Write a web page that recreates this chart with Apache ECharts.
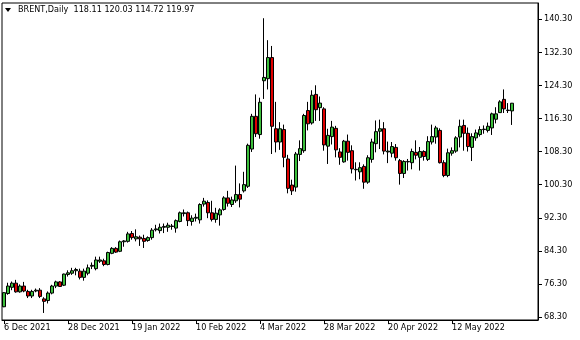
<!DOCTYPE html>
<html>
<head>
<meta charset="utf-8">
<script src="https://cdn.jsdelivr.net/npm/echarts@6/dist/echarts.min.js"></script>
<style>html,body{margin:0;padding:0;background:#fff}#c{width:580px;height:340px}</style>
</head>
<body>
<div id="c"></div>
<script>
// trading days (category axis)
const monthDays = [
  ['Dec', 2021, [6,7,8,9,10,13,14,15,16,17,20,21,22,23,24,27,28,29,30,31]],
  ['Jan', 2022, [3,4,5,6,7,10,11,12,13,14,17,18,19,20,21,24,25,26,27,28,31]],
  ['Feb', 2022, [1,2,3,4,7,8,9,10,11,14,15,16,17,18,21,22,23,24,25,28]],
  ['Mar', 2022, [1,2,3,4,7,8,9,10,11,14,15,16,17,18,21,22,23,24,25,28,29,30,31]],
  ['Apr', 2022, [1,4,5,6,7,8,11,12,13,14,18,19,20,21,22,25,26,27,28,29]],
  ['May', 2022, [2,3,4,5,6,9,10,11,12,13,16,17,18,19,20,23,24,25,26,27,30,31]],
  ['Jun', 2022, [1,2]]
];
const emptySlots = 6; // blank space to the right of the last bar
const tickLabels = ['6 Dec 2021','28 Dec 2021','19 Jan 2022','10 Feb 2022','4 Mar 2022','28 Mar 2022','20 Apr 2022','12 May 2022'];
const priceTicks = [68.3, 76.3, 84.3, 92.3, 100.3, 108.3, 116.3, 124.3, 132.3, 140.3];

const opens = [70.8,74.0,75.5,76.5,74.4,75.8,74.5,73.4,74.6,74.8,72.7,72.3,74.1,75.8,76.8,76.0,78.6,78.9,79.5,79.4,
77.9,78.9,80.6,80.0,81.8,81.9,81.0,83.7,84.9,84.2,86.5,86.6,88.5,87.2,87.6,87.3,86.8,87.5,89.4,89.2,
90.0,90.0,90.2,89.8,91.4,93.3,93.5,91.4,92.2,91.8,95.6,96.0,93.5,91.9,93.0,94.3,97.1,95.5,96.4,97.9,
98.8,99.9,108.9,116.8,112.4,125.4,125.9,131.0,113.8,110.6,113.6,106.5,100.2,99.7,107.6,108.5,118.2,115.2,122.1,118.9,
118.6,109.6,111.9,113.9,108.2,105.8,110.8,108.5,103.9,103.4,104.7,100.9,106.4,110.2,113.2,113.8,108.2,107.9,109.3,106.1,
103.0,105.8,105.6,108.1,106.9,108.3,106.4,110.6,111.8,113.4,105.6,102.5,107.9,108.4,111.8,114.6,112.7,109.3,111.6,112.4,
113.6,113.4,114.0,116.1,117.7,120.9,118.3,118.11];
const highs = [74.3,76.6,76.9,77.3,76.2,76.8,74.9,74.9,75.2,75.3,73.1,74.5,76.1,77.1,77.0,78.8,79.6,80.2,80.2,80.0,
80.0,81.0,81.5,82.9,82.9,82.4,84.1,85.2,85.2,86.8,86.9,88.9,89.1,89.5,88.0,88.2,87.8,89.8,90.6,90.9,
90.9,91.1,90.8,91.9,93.8,94.3,93.8,92.9,93.3,95.8,97.1,96.5,96.4,94.7,94.6,97.5,98.8,97.4,104.9,100.6,
103.4,110.2,117.4,122.1,121.3,140.5,135.2,133.8,120.3,115.4,114.8,107.5,101.5,108.2,111.0,117.4,120.3,123.1,124.3,121.6,
119.0,113.8,115.7,114.5,109.1,111.1,112.4,109.8,105.7,105.7,105.2,107.4,111.4,115.8,116.0,115.4,110.7,110.6,110.1,106.5,
106.2,106.5,109.0,111.0,109.4,108.6,112.0,114.8,114.5,113.9,106.2,109.0,109.3,112.0,116.0,116.0,114.1,112.7,113.6,114.4,
114.6,115.3,117.7,119.0,120.7,123.3,120.0,120.03];
const lows = [70.7,73.7,74.8,74.2,74.2,74.3,72.9,72.9,74.3,72.9,69.3,71.6,73.8,75.3,75.6,75.8,78.1,78.5,78.4,77.4,
77.1,78.4,79.9,79.6,81.4,80.6,80.8,83.5,83.8,84.0,85.3,86.3,87.0,86.6,85.5,85.0,86.5,87.0,89.0,88.5,
88.6,88.9,89.4,88.7,91.2,92.6,90.3,90.4,91.4,90.9,95.0,92.2,91.4,91.1,90.4,94.0,95.0,94.9,95.9,94.8,
98.4,99.5,108.2,111.8,111.4,121.0,123.3,107.7,108.1,108.7,104.5,98.2,97.8,98.6,106.0,108.0,113.4,114.8,115.7,115.7,
108.5,105.3,110.0,106.9,105.1,105.6,106.1,103.0,101.3,101.6,99.3,100.5,105.6,108.1,108.9,107.6,105.5,106.9,106.1,100.3,
101.9,103.7,104.0,106.4,103.7,106.1,106.0,110.0,110.2,105.4,102.1,102.1,107.3,108.0,109.3,108.5,108.3,106.0,110.9,111.9,
112.6,112.9,112.3,115.1,117.6,117.6,117.6,114.72];
const closes = [74.2,75.8,76.5,74.4,75.8,74.6,73.4,74.5,74.8,73.3,72.1,74.1,75.8,76.8,75.7,78.7,79.0,79.5,79.8,77.9,
79.4,80.2,80.8,82.1,82.1,81.0,83.9,84.9,84.0,86.5,86.7,88.4,87.5,87.7,87.2,86.6,87.5,89.3,89.6,90.0,
90.2,90.5,90.3,91.6,93.5,93.5,91.6,92.2,92.4,95.5,96.3,93.5,91.9,93.4,94.2,97.1,95.8,96.6,97.9,96.8,
100.3,109.8,116.8,112.6,120.2,126.2,131.0,114.4,110.6,113.8,106.9,99.4,98.8,107.7,109.0,117.0,115.0,121.9,118.4,120.0,
109.9,112.2,114.2,108.7,106.9,110.8,108.1,104.1,104.0,104.4,100.9,106.8,110.6,113.1,113.8,108.4,108.4,109.5,106.8,103.0,
105.9,105.9,108.3,107.4,108.3,107.1,110.7,111.9,114.0,105.6,102.5,108.0,108.5,111.6,114.4,112.7,109.5,111.9,112.8,113.6,
113.7,114.4,117.4,117.4,120.3,118.6,118.2,119.97];

const dates = [];
monthDays.forEach(([m, y, days]) => days.forEach(d => dates.push(d + ' ' + m + ' ' + y)));
const categories = dates.concat(new Array(emptySlots).fill(''));
const candles = opens.map((o, i) => [o, closes[i], lows[i], highs[i]]);
const lastClose = closes[closes.length - 1];
const FONT = "'DejaVu Sans Condensed', 'Liberation Sans', sans-serif";

const chart = echarts.init(document.getElementById('c'), null, {renderer: 'canvas'});
chart.setOption({
  animation: false,
  backgroundColor: '#fff',
  grid: {left: 2, right: 42, top: 3, bottom: 20, show: true, borderColor: '#000', borderWidth: 1, backgroundColor: 'transparent'},
  xAxis: {
    type: 'category',
    data: categories,
    boundaryGap: true,
    axisLine: {show: true, lineStyle: {color: '#000', width: 1}},
    axisTick: {show: true, alignWithLabel: true, length: 4, lineStyle: {color: '#000'},
      interval: (i, v) => tickLabels.indexOf(v) >= 0},
    axisLabel: {
      show: true, interval: (i, v) => tickLabels.indexOf(v) >= 0,
      align: 'left', margin: 3, color: '#000', fontSize: 9, fontFamily: FONT
    },
    splitLine: {show: false}
  },
  yAxis: {
    type: 'value',
    position: 'right',
    min: 67.6, max: 144.18,
    scale: true,
    axisLine: {show: true, lineStyle: {color: '#000'}},
    axisTick: {show: true, length: 4, lineStyle: {color: '#000'}, customValues: priceTicks},
    axisLabel: {show: true, customValues: priceTicks, formatter: v => v.toFixed(2),
      margin: 6, color: '#000', fontSize: 9, fontFamily: FONT},
    splitLine: {show: false}
  },
  series: [{
    type: 'candlestick',
    data: candles,
    barWidth: 3,
    itemStyle: {
      color: '#3cbf3c', color0: '#e00000',
      borderColor: '#000', borderColor0: '#000', borderColorDoji: '#000', borderWidth: 1
    },
    markLine: {
      silent: true, symbol: ['none', 'none'],
      lineStyle: {opacity: 0},
      label: {show: true, position: 'end', distance: 2, formatter: lastClose.toFixed(2),
        color: '#fff', backgroundColor: '#000', padding: [2, 3, 1, 3], fontSize: 9, fontFamily: FONT},
      data: [{yAxis: lastClose}]
    }
  }],
  graphic: [
    {type: 'polygon', shape: {points: [[5, 8], [11, 8], [8, 12]]}, style: {fill: '#000'}},
    {type: 'text', left: 18, top: 5, style: {text: 'BRENT,Daily  118.11 120.03 114.72 119.97', fill: '#000', font: '9px ' + FONT}}
  ]
});
</script>
</body>
</html>
